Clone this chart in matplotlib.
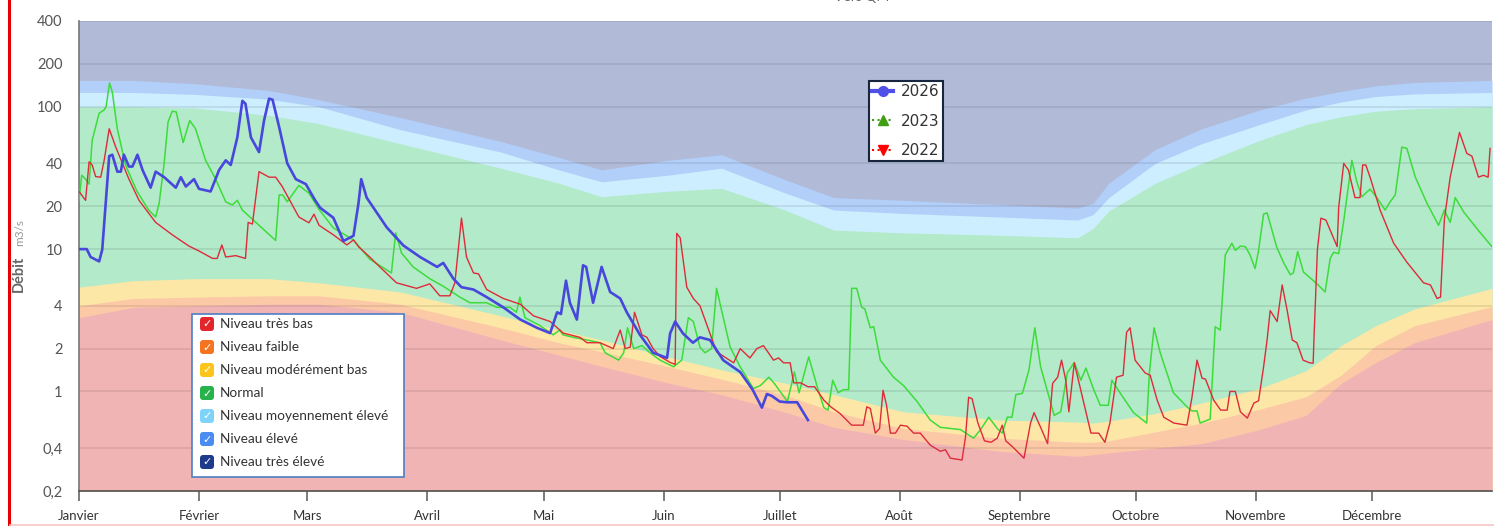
import numpy as np
import matplotlib
matplotlib.use('Agg')
import matplotlib.pyplot as plt
from matplotlib.lines import Line2D
from matplotlib.patches import FancyBboxPatch, Rectangle

plt.rcParams['font.family'] = ['Lato', 'DejaVu Sans']

# axes content
months = ['Janvier', 'Février', 'Mars', 'Avril', 'Mai', 'Juin', 'Juillet',
          'Août', 'Septembre', 'Octobre', 'Novembre', 'Décembre']
month_start = [0, 31, 59, 90, 120, 151, 181, 212, 243, 273, 304, 334]
y_ticks = [0.2, 0.4, 1, 2, 4, 10, 20, 40, 100, 200, 400]
y_labels = ['0,2', '0,4', '1', '2', '4', '10', '20', '40', '100', '200', '400']

# seuils (upper bound of each level), by day of year
band_days = [0, 14, 30, 49, 62, 83, 109, 124, 135, 152, 166, 182, 195, 213, 238,
             258, 262, 266, 278, 290, 305, 317, 326, 335, 345, 365]
eleve_top = [153, 153, 145, 130, 112, 84, 57, 44, 36, 42, 46, 31, 23, 22, 20.5,
             19.4, 21, 29, 50, 70, 95, 115, 128, 140, 148, 153]
moyen_top = [126, 126, 122, 113, 100, 69, 48, 36, 29.7, 33, 37, 25, 18.8, 17.8, 16.8,
             16, 17.5, 23, 40, 55, 75, 95, 108, 118, 123, 126]
normal_top = [100, 100, 98, 87, 76, 55, 37, 29, 23.3, 25.5, 26.7, 19, 13.6, 13, 12.5,
              12.0, 14, 18.5, 29, 40, 58, 75, 85, 93, 97, 100]
modbas_top = [5.4, 6.0, 6.2, 6.2, 5.8, 5.0, 3.4, 2.7, 2.3, 1.75, 1.42, 1.15, 0.95, 0.72, 0.63,
              0.61, 0.6, 0.62, 0.7, 0.83, 1.05, 1.4, 2.1, 2.9, 3.8, 5.3]
faible_top = [4.0, 4.5, 4.6, 4.7, 4.7, 4.1, 2.8, 2.2, 1.9, 1.5, 1.22, 0.95, 0.72, 0.55, 0.47,
              0.44, 0.44, 0.45, 0.52, 0.6, 0.75, 0.92, 1.3, 2.1, 2.9, 3.95]
tresbas_top = [3.3, 3.9, 4.0, 4.1, 4.1, 3.6, 2.3, 1.8, 1.5, 1.15, 0.95, 0.72, 0.56, 0.46, 0.38,
               0.35, 0.36, 0.37, 0.4, 0.43, 0.54, 0.68, 1.14, 1.6, 2.2, 3.2]

# débits journaliers
d2026 = [0, 2, 3, 5.2, 6, 6.9, 7.8, 8.6, 9.9, 10.8, 11.6, 12.9, 13.8, 15.1, 16.4, 18.5, 19.8, 22, 25, 26.3,
         27.6, 29.7, 31, 34, 36.2, 37.9, 39.2, 40.9, 42.2, 43, 44.4, 46.5, 47.8, 49.1, 50, 51.7, 53.8, 56, 58.6, 61,
         62.3, 65.7, 68.3, 70.9, 72.2, 72.9, 74.3, 79.5, 83.8, 88.1, 92.5, 94.1, 96.7, 98.8, 101.9, 105.3, 109.6,
         114, 118.3, 121.7, 123.5, 124.5, 125.8, 126.8, 128.6, 130.2, 131, 132.8, 135, 137.2, 139.8, 141.5, 144.9,
         148.3, 151.9, 152.7, 154, 156, 158.6, 160.4, 163, 166.4, 170.8, 174, 176.4, 177.7, 179, 181, 182.9, 185.5,
         188.3]
q2026 = [10, 10, 8.8, 8.2, 9.9, 21, 45, 46, 35, 35, 46, 38, 38, 46, 36, 27, 35, 32, 27, 32,
         27.5, 31, 26.5, 25.4, 36, 42, 39, 61, 110, 105, 61, 48, 80, 114, 112, 72, 40, 31, 28.6, 22,
         19.5, 16.6, 11.4, 12.4, 21, 31, 23, 14.2, 10.6, 8.8, 7.5, 8.0, 6.2, 5.4, 5.2, 4.6, 3.9,
         3.2, 2.8, 2.57, 3.6, 3.5, 6.0, 4.2, 3.2, 7.7, 7.5, 4.2, 7.5, 5.0, 4.5, 3.6, 2.5,
         1.87, 1.72, 2.56, 3.1, 2.56, 2.2, 2.4, 2.3, 1.66, 1.37, 1.03, 0.77, 0.96, 0.93, 0.85, 0.84, 0.84,
         0.63]

d2023 = [0, 0.7, 1.7, 2.6, 3.4, 5.2, 6.5, 7, 7.9, 8.6, 9.9, 12, 15, 18, 19.8, 20.7, 22, 23, 24.1, 25.1,
         26.9, 28.6, 30.1, 32.7, 35.3, 37.9, 39.6, 40.9, 42.2, 50.8, 51.7, 52.6, 53.8, 56.8, 59.4, 62, 65.7,
         70.9, 75.1, 80.7, 81.8, 83.3, 86.3, 90.6, 94, 98.4, 101, 105.3, 107.9, 111.3, 113, 113.9, 115.2,
         119.1, 122.5, 124.2, 125, 127.7, 131.2, 134.6, 135.9, 139.4, 140.7, 141.7, 143.3, 145.4, 147.5,
         150.1, 153.6, 155.7, 157.4, 158.7, 160.4, 161.7, 163.4, 164.7, 166, 168.2, 170.8, 174.2, 176,
         178.2, 179.5, 183, 184.8, 186, 188.5, 190.7, 192.4, 193.5, 194.7, 196.1, 197.5, 198.8, 199.6,
         200.9, 202.2, 203, 204.4, 205.3, 207, 210.4, 213, 216.5, 219.9, 222.5, 227.7, 231.1, 232.9, 235,
         237.2, 238.5, 239.8, 241, 242, 243.7, 245.4, 246.9, 248.4, 251.9, 253.6, 255.3, 257.1, 258.8,
         260.1, 262, 263.8, 265.9, 266.8, 268.9, 272.4, 275.8, 276.5, 277.7, 279.3, 282.7, 286.2, 287.5,
         288.8, 289.6, 292.2, 293.5, 294.8, 296.1, 297.8, 298.7, 300, 301.3, 302.5, 303.8, 304.7, 306,
         306.9, 309.4, 311.2, 312.9, 313.7, 314.8, 316.3, 319.8, 321.9, 323.2, 324.1, 325.4, 326.7, 328.8,
         330.1, 331.4, 333.5, 335.3, 337.4, 338.7, 340, 341.7, 343, 345.2, 348.2, 351.2, 352.7, 354.2,
         355.5, 357.7, 362, 365]
q2023 = [22, 33, 31, 28.6, 58, 90, 95, 100, 147, 127, 70, 39, 25.4, 18.8, 16.8, 21, 40, 78, 93, 92,
         56, 80, 70, 42, 31, 21.5, 20.4, 22, 18.8, 11.5, 24, 24, 21.5, 28, 24.7, 19, 14.1,
         11.6, 8.5, 6.8, 13, 9.4, 7.5, 6.2, 5.5, 4.6, 4.2, 4.2, 3.9, 3.9, 3.6, 4.6, 3.3,
         2.9, 2.5, 2.7, 2.5, 2.4, 2.3, 2.2, 1.87, 1.66, 1.87, 2.8, 2.0, 2.1, 1.87,
         1.66, 1.49, 1.66, 3.3, 3.1, 2.05, 1.87, 2.0, 5.3, 3.7, 2.05, 1.49, 1.05, 1.1,
         1.26, 1.15, 0.85, 1.37, 0.98, 1.75, 1.08, 0.77, 0.74, 1.2, 0.98, 1.03, 1.03, 5.3,
         5.3, 3.9, 3.8, 2.8, 2.85, 1.66, 1.26, 1.1, 0.85, 0.63, 0.56, 0.54, 0.47, 0.54, 0.66,
         0.55, 0.51, 0.66, 0.66, 0.95, 0.97, 1.42, 2.8, 1.49, 0.68, 0.72, 1.35, 1.6, 1.2,
         1.46, 1.05, 0.8, 0.8, 1.2, 0.98, 0.71, 0.6, 1.35, 2.8, 1.87, 0.98, 0.78, 0.73,
         0.73, 0.6, 0.64, 2.85, 2.7, 9.1, 11, 9.8, 10.5, 10.4, 9.1, 7.3, 9.8, 17.6,
         18, 10.3, 8.0, 6.6, 6.8, 9.6, 6.9, 5.7, 5.0, 8.6, 9.5, 9.3, 15.8, 42,
         29.6, 23.3, 26.4, 22.9, 18.8, 21.5, 24, 52, 51, 32, 21, 14.7, 18.8, 15.4,
         23, 18.2, 13, 10.4]

d2022 = [0, 1.7, 2.6, 3.4, 4.3, 5.6, 6.5, 7.8, 9.5, 12.9, 15.5, 19.8, 24.1, 28.4, 31, 34.5, 35.7, 36.9, 37.9,
         40.5, 43, 43.7, 44.8, 46.5, 49.1, 50.8, 52.5, 56.8, 59.4, 60.7, 62, 65.7, 69.2, 70.9, 72.2, 75.1, 77.7,
         82, 87.2, 90.6, 93.2, 95.8, 97.1, 98.8, 100.1, 101.9, 103.2, 105.3, 109.6, 114, 117.4, 121.7, 125.1,
         129.4, 131.2, 134.6, 138, 139.8, 141.1, 142.4, 143.5, 145.4, 146.7, 148.3, 150.1, 152.7, 154, 154.4,
         155.3, 157, 158.7, 160.4, 164.7, 169.1, 170.8, 173.3, 175.1, 176.8, 179.4, 180.7, 182, 183.7, 184.6,
         186.4, 188.3, 190, 192.4, 194.2, 196.6, 199.6, 202.6, 203.5, 204.4, 205.7, 206.8, 207.7, 208.6, 209.6,
         210.9, 212.2, 213.9, 215.6, 217.3, 219.9, 222.5, 223.8, 225.1, 228.1, 229, 229.8, 230.7, 232.2, 233.9,
         235.6, 237.2, 238.5, 239.4, 241.1, 244.1, 245.8, 246.7, 248.4, 250.2, 251.5, 252.8, 253.8, 254.9,
         255.7, 257.1, 259.2, 261.4, 263.4, 265, 266.3, 268, 269.7, 270.6, 271.5, 272.8, 275.4, 276.7, 278.5,
         280.2, 282.8, 286.2, 287.5, 288.8, 290.1, 291, 293.1, 294.9, 296.6, 297.3, 298.7, 300, 301.8, 303.5,
         304.7, 306, 306.9, 307.7, 309.5, 310.8, 312.1, 313.4, 314.6, 316.2, 317.9, 318.8, 319, 319.9, 320.8,
         322.1, 325, 325.4, 326.7, 327.9, 329.6, 330.9, 331.6, 332.4, 333.5, 336.1, 339.6, 343, 347.3, 349.1,
         350.8, 351.7, 352.7, 354.2, 356.6, 358.5, 359.8, 361.5, 362.8, 364, 364.5]
q2022 = [25.4, 22, 41, 39, 32.3, 32, 42, 70, 52, 31, 22, 15.4, 12.6, 10.5, 9.7, 8.6, 8.6, 10.7, 8.8,
         9.0, 8.6, 15.4, 15, 35, 32, 32, 27.5, 16.8, 15.3, 17.6, 14.7, 12.6, 10.7, 11.6, 10.4, 8.8, 7.5,
         5.8, 5.3, 5.7, 4.7, 4.7, 5.8, 16.5, 8.8, 6.8, 6.7, 5.2, 4.5, 4.1, 3.4, 3.1, 2.57,
         2.4, 2.2, 2.2, 2.0, 2.7, 2.0, 2.05, 3.6, 2.5, 2.4, 2.0, 1.76, 1.6, 1.55, 12.9,
         12, 5.4, 4.5, 4.0, 1.9, 1.59, 2.0, 1.72, 2.0, 2.1, 1.66, 1.72, 1.59, 1.59, 1.15,
         1.15, 1.08, 1.08, 0.87, 0.78, 0.7, 0.58, 0.58, 0.78, 0.76, 0.51, 0.55, 1.02, 0.8, 0.51,
         0.51, 0.58, 0.57, 0.51, 0.51, 0.42, 0.38, 0.39, 0.34, 0.33, 0.48, 0.91, 0.89, 0.6, 0.45,
         0.44, 0.47, 0.58, 0.45, 0.41, 0.34, 0.6, 0.71, 0.56, 0.43, 1.14, 1.26, 1.66, 1.2,
         0.72, 1.59, 0.91, 0.51, 0.51, 0.44, 0.6, 1.26, 1.3, 2.6, 2.8, 1.66, 1.35, 1.3, 0.87,
         0.66, 0.6, 0.58, 0.91, 1.66, 1.24, 1.22, 0.87, 0.74, 0.74, 1.0, 1.0, 0.72, 0.65, 0.83,
         0.86, 1.49, 2.3, 3.7, 3.1, 5.6, 3.7, 2.3, 2.2, 1.66, 1.59, 1.58, 2.3, 9.9, 16.5,
         16, 10.4, 19.7, 40, 36, 23, 23, 39, 39, 32, 18.8, 11, 8.1, 5.8, 5.6,
         4.5, 4.6, 16.2, 32, 66, 47, 45, 32, 33, 32, 51]

levels = ['Niveau très bas', 'Niveau faible', 'Niveau modérément bas', 'Normal',
          'Niveau moyennement élevé', 'Niveau élevé', 'Niveau très élevé']
level_marks = ['#e3262b', '#f57420', '#fcc51c', '#28b24c', '#7fd2f8', '#4a8cf0', '#1e3a8a']

W, H = 1494, 526
fig = plt.figure(figsize=(W / 100, H / 100), dpi=100)
ax = fig.add_axes([79 / W, 35 / H, 1413 / W, 470 / H])
ax.set_yscale('log')
ax.set_xlim(0, 365)
ax.set_ylim(0.2, 400)

# bands, stacked from top to bottom
ax.fill_between([0, 365], 0.2, 400, color='#b1bbd8', lw=0, zorder=1)
ax.fill_between(band_days, 0.2, eleve_top, color='#b2cff9', lw=0, zorder=1)
ax.fill_between(band_days, 0.2, moyen_top, color='#cdeefe', lw=0, zorder=1)
ax.fill_between(band_days, 0.2, normal_top, color='#b3eaca', lw=0, zorder=1)
ax.fill_between(band_days, 0.2, modbas_top, color='#fde7a6', lw=0, zorder=1)
ax.fill_between(band_days, 0.2, faible_top, color='#fcc9a6', lw=0, zorder=1)
ax.fill_between(band_days, 0.2, tresbas_top, color='#f0b4b5', lw=0, zorder=1)

for v in y_ticks:
    ax.axhline(v, color='#000000', alpha=0.08, lw=1.4, zorder=1.5)

ax.plot(d2023, q2023, color='#3ddc3a', lw=1.1, zorder=3, solid_joinstyle='round')
ax.plot(d2022, q2022, color='#dd2b3a', lw=1.0, zorder=3, solid_joinstyle='round')
ax.plot(d2026, q2026, color='#4747dc', lw=1.9, zorder=4, solid_joinstyle='round')

ax.set_yticks(y_ticks)
ax.set_yticklabels(y_labels)
ax.yaxis.set_minor_locator(matplotlib.ticker.NullLocator())
ax.tick_params(axis='y', length=0, pad=12, labelsize=10.5, labelcolor='#555555')
ax.set_xticks(month_start)
ax.set_xticklabels(months)
ax.tick_params(axis='x', length=7, width=1.2, color='#666666', pad=7,
               labelsize=9.5, labelcolor='#333333')
for s in ['top', 'right']:
    ax.spines[s].set_visible(False)
ax.spines['left'].set_color('#777777')
ax.spines['left'].set_linewidth(1.2)
ax.spines['bottom'].set_color('#555555')
ax.spines['bottom'].set_linewidth(1.2)

# legend of years
handles = [Line2D([], [], color='#5050e8', lw=3, marker='o', ms=7),
           Line2D([], [], color='#3f9e12', lw=1.5, ls=':', marker='^', ms=7),
           Line2D([], [], color='#ff0000', lw=1.5, ls=':', marker='v', ms=7)]
leg = ax.legend(handles, ['2026', '2023', '2022'], loc='upper left',
                bbox_to_anchor=(869 / W, 1 - 81 / H), bbox_transform=fig.transFigure,
                frameon=True, fancybox=False, framealpha=1, edgecolor='#17263d',
                prop={'family': 'DejaVu Sans', 'size': 11}, labelcolor='#333333',
                handlelength=1.4, handletextpad=0.5, labelspacing=0.95,
                borderpad=0.2, borderaxespad=0)
leg.get_frame().set_linewidth(1.5)
leg.set_zorder(10)

# overlay in pixel units for legend box, axis title and page borders
ov = fig.add_axes([0, 0, 1, 1], zorder=5)
ov.set_xlim(0, W)
ov.set_ylim(H, 0)
ov.axis('off')
ov.patch.set_alpha(0)

ov.add_patch(Rectangle((192, 314), 212, 163, facecolor='white', edgecolor='#4d7fc4', lw=1.2))
for i, (lab, col) in enumerate(zip(levels, level_marks)):
    yc = 324 + 23 * i
    ov.add_patch(FancyBboxPatch((200, yc - 7), 14, 14,
                                boxstyle='round,pad=0,rounding_size=3',
                                facecolor=col, edgecolor='none'))
    ov.text(207, yc + 0.5, '✓', ha='center', va='center', color='white',
            fontsize=8, fontweight='bold', family='DejaVu Sans')
    ov.text(220, yc, lab, ha='left', va='center', fontsize=9.8, color='#333333')

ov.text(19, 274, 'Débit', rotation=90, ha='center', va='center',
        fontsize=10.5, fontweight='bold', color='#666666')
ov.text(20, 233, 'm3/s', rotation=90, ha='center', va='center',
        fontsize=8.5, color='#999999')
ov.text(862, -3, 'Vers QM', ha='center', va='center', fontsize=10, color='#666666')

ov.plot([9, 9], [0, H], color='#e60000', lw=2.2)
ov.plot([10, W], [524.5, 524.5], color='#f6c6c6', lw=1.2)

fig.savefig('out.png', dpi=100)
